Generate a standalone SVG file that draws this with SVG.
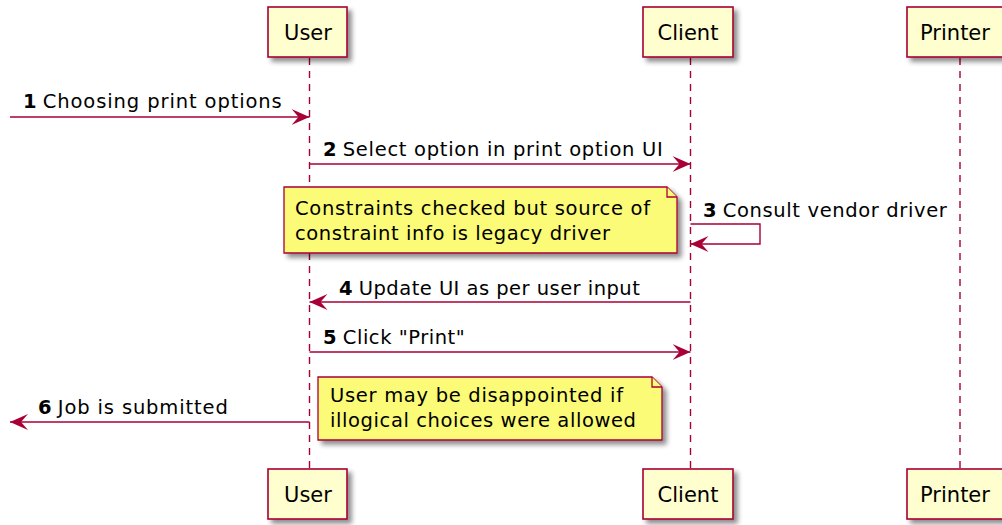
<svg xmlns="http://www.w3.org/2000/svg" width="1002" height="525" viewBox="0 0 1002 525">
<style>
text{font-family:"DejaVu Sans","Verdana",sans-serif;font-size:19.5px;fill:#000}
.p{font-size:21px;text-anchor:middle}
.box{fill:#FEFECE;stroke:#A80036;stroke-width:1.6}
.note{fill:#FBFB77;stroke:#A80036;stroke-width:1.3}
.life{stroke:#A80036;stroke-width:1.4;stroke-dasharray:7,6;fill:none}
.msg{stroke:#A80036;stroke-width:1.4;fill:none}
.b{font-weight:bold}
</style>
<defs>
<filter id="sh" x="-10%" y="-10%" width="130%" height="140%">
<feGaussianBlur in="SourceAlpha" stdDeviation="2.5"/>
<feOffset dx="4" dy="4" result="o"/>
<feComponentTransfer><feFuncA type="linear" slope="0.45"/></feComponentTransfer>
<feMerge><feMergeNode/><feMergeNode in="SourceGraphic"/></feMerge>
</filter>
<marker id="ah" viewBox="0 0 18 16" refX="18" refY="8" markerWidth="18" markerHeight="16" markerUnits="userSpaceOnUse" orient="auto">
<polygon points="0,0 18,8 0,16 7,8" fill="#A80036"/>
</marker>
</defs>
<g id="lifelines">
<line class="life" x1="309.5" y1="58" x2="309.5" y2="469"/>
<line class="life" x1="690.5" y1="58" x2="690.5" y2="469"/>
<line class="life" x1="960" y1="58" x2="960" y2="469"/>
</g>
<g id="participant-user-top"><rect class="box" x="268" y="7" width="79" height="50" filter="url(#sh)"/><text class="p" x="308" y="40">User</text></g>
<g id="participant-client-top"><rect class="box" x="643" y="7" width="90" height="50" filter="url(#sh)"/><text class="p" x="688" y="40">Client</text></g>
<g id="participant-printer-top"><rect class="box" x="907" y="7" width="100" height="50" filter="url(#sh)"/><text class="p" x="955" y="40">Printer</text></g>
<g id="participant-user-bottom"><rect class="box" x="268" y="469" width="79" height="50" filter="url(#sh)"/><text class="p" x="308" y="502">User</text></g>
<g id="participant-client-bottom"><rect class="box" x="643" y="469" width="90" height="50" filter="url(#sh)"/><text class="p" x="688" y="502">Client</text></g>
<g id="participant-printer-bottom"><rect class="box" x="907" y="469" width="100" height="50" filter="url(#sh)"/><text class="p" x="955" y="502">Printer</text></g>
<g id="connectors">
<line class="msg" x1="10" y1="117" x2="309.5" y2="117" marker-end="url(#ah)"/>
<line class="msg" x1="309.5" y1="164" x2="690.5" y2="164" marker-end="url(#ah)"/>
<polyline class="msg" points="690.5,224 760,224 760,244 690.5,244" marker-end="url(#ah)"/>
<line class="msg" x1="690.5" y1="302" x2="309.5" y2="302" marker-end="url(#ah)"/>
<line class="msg" x1="309.5" y1="352" x2="690.5" y2="352" marker-end="url(#ah)"/>
<line class="msg" x1="309.5" y1="422" x2="10" y2="422" marker-end="url(#ah)"/>
</g>
<g id="labels">
<text x="23" y="108"><tspan class="b">1</tspan> <tspan textLength="239" lengthAdjust="spacing">Choosing print options</tspan></text>
<text x="323" y="156"><tspan class="b">2</tspan> <tspan textLength="320" lengthAdjust="spacing">Select option in print option UI</tspan></text>
<text x="703" y="217"><tspan class="b">3</tspan> <tspan textLength="224" lengthAdjust="spacing">Consult vendor driver</tspan></text>
<text x="339" y="295"><tspan class="b">4</tspan> <tspan textLength="281" lengthAdjust="spacing">Update UI as per user input</tspan></text>
<text x="323" y="344"><tspan class="b">5</tspan> <tspan textLength="122" lengthAdjust="spacing">Click "Print"</tspan></text>
<text x="38" y="414"><tspan class="b">6</tspan> <tspan textLength="170" lengthAdjust="spacing">Job is submitted</tspan></text>
</g>
<g id="note-constraints">
<path class="note" d="M284,187 L667,187 L677,197 L677,253 L284,253 Z" filter="url(#sh)"/>
<path class="note" d="M667,187 L667,197 L677,197" fill="none"/>
<text x="295" y="215" textLength="355" lengthAdjust="spacing">Constraints checked but source of</text>
<text x="295" y="240" textLength="315" lengthAdjust="spacing">constraint info is legacy driver</text>
</g>
<g id="note-disappointed">
<path class="note" d="M318,377 L652,377 L662,387 L662,440 L318,440 Z" filter="url(#sh)"/>
<path class="note" d="M652,377 L652,387 L662,387" fill="none"/>
<text x="330" y="402" textLength="293" lengthAdjust="spacing">User may be disappointed if</text>
<text x="330" y="427" textLength="306" lengthAdjust="spacing">illogical choices were allowed</text>
</g>
</svg>
